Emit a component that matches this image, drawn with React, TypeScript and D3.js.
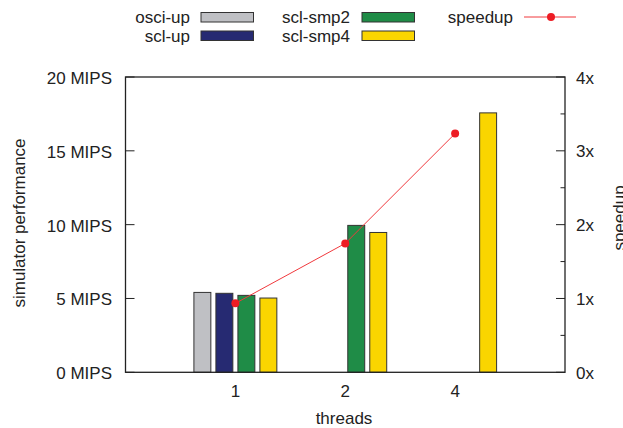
import React, { useRef, useEffect } from "react";
import * as d3 from "d3";

const threads = ["1", "2", "4"];
const seriesNames = ["osci-up", "scl-up", "scl-smp2", "scl-smp4"];
const seriesColors = ["#bfc0c4", "#262a72", "#1f8c47", "#fad500"];
const osciUp = [5.41, null, null];
const sclUp = [5.35, null, null];
const sclSmp2 = [5.21, 9.95, null];
const sclSmp4 = [5.03, 9.47, 17.57];
const speedup = [0.934, 1.746, 3.234];
const mipsTicks = [0, 5, 10, 15, 20];
const speedupTicks = [0, 1, 2, 3, 4];

const W = 623;
const H = 428;
const FONT = "'Liberation Sans', Arial, sans-serif";

const App = () => {
  const ref = useRef<SVGSVGElement>(null);

  useEffect(() => {
    const svg = d3.select(ref.current);
    svg.selectAll("*").remove();

    const left = 125.5;
    const right = 565;
    const top = 77;
    const bottom = 372.3;

    const x = d3.scalePoint().domain(threads).range([left, right]).padding(1);
    const inner = d3
      .scaleBand()
      .domain(seriesNames)
      .range([-44, 44])
      .paddingInner(0.23)
      .paddingOuter(0.115);
    const y = d3.scaleLinear().domain([0, 20]).range([bottom, top]);
    const y2 = d3.scaleLinear().domain([0, 4]).range([bottom, top]);

    const allSeries = [osciUp, sclUp, sclSmp2, sclSmp4];

    // bars
    allSeries.forEach((vals, si) => {
      svg
        .append("g")
        .selectAll("rect")
        .data(vals.map((v, i) => ({ v, t: threads[i] })).filter((d) => d.v != null))
        .enter()
        .append("rect")
        .attr("x", (d) => x(d.t)! + inner(seriesNames[si])!)
        .attr("width", inner.bandwidth())
        .attr("y", (d) => y(d.v as number))
        .attr("height", (d) => y(0) - y(d.v as number))
        .attr("fill", seriesColors[si])
        .attr("stroke", "#333")
        .attr("stroke-width", 1);
    });

    // frame
    svg
      .append("rect")
      .attr("x", left)
      .attr("y", top)
      .attr("width", right - left)
      .attr("height", bottom - top)
      .attr("fill", "none")
      .attr("stroke", "#222")
      .attr("stroke-width", 1.3);

    // left ticks
    mipsTicks.forEach((t) => {
      svg
        .append("line")
        .attr("x1", left)
        .attr("x2", left + 9)
        .attr("y1", y(t))
        .attr("y2", y(t))
        .attr("stroke", "#222");
      svg
        .append("text")
        .attr("x", 112)
        .attr("y", y(t) + 7)
        .attr("text-anchor", "end")
        .attr("font-family", FONT)
        .attr("font-size", 17)
        .attr("fill", "#222")
        .text(`${t} MIPS`);
    });

    // right ticks (major + minor)
    d3.range(0, 4.01, 0.5).forEach((t) => {
      const major = Number.isInteger(t);
      svg
        .append("line")
        .attr("x1", right)
        .attr("x2", right - (major ? 9 : 4.5))
        .attr("y1", y2(t))
        .attr("y2", y2(t))
        .attr("stroke", "#222");
    });
    speedupTicks.forEach((t) => {
      svg
        .append("text")
        .attr("x", 576)
        .attr("y", y2(t) + 6.5)
        .attr("font-family", FONT)
        .attr("font-size", 17)
        .attr("fill", "#222")
        .text(`${t}x`);
    });

    // x labels
    threads.forEach((t) => {
      svg
        .append("text")
        .attr("x", x(t)!)
        .attr("y", 397)
        .attr("text-anchor", "middle")
        .attr("font-family", FONT)
        .attr("font-size", 17)
        .attr("fill", "#222")
        .text(t);
    });

    // axis titles
    svg
      .append("text")
      .attr("x", 344)
      .attr("y", 424)
      .attr("text-anchor", "middle")
      .attr("font-family", FONT)
      .attr("font-size", 17)
      .attr("fill", "#222")
      .text("threads");
    svg
      .append("text")
      .attr("transform", `translate(25,223) rotate(-90)`)
      .attr("text-anchor", "middle")
      .attr("font-family", FONT)
      .attr("font-size", 17)
      .attr("fill", "#222")
      .text("simulator performance");
    svg
      .append("text")
      .attr("transform", `translate(625,218) rotate(-90)`)
      .attr("text-anchor", "middle")
      .attr("font-family", FONT)
      .attr("font-size", 17)
      .attr("fill", "#222")
      .text("speedup");

    // speedup line
    const line = d3
      .line<number>()
      .x((_, i) => x(threads[i])!)
      .y((d) => y2(d));
    svg
      .append("path")
      .attr("d", line(speedup))
      .attr("fill", "none")
      .attr("stroke", "#f0393d")
      .attr("stroke-width", 1);
    svg
      .append("g")
      .selectAll("circle")
      .data(speedup)
      .enter()
      .append("circle")
      .attr("cx", (_, i) => x(threads[i])!)
      .attr("cy", (d) => y2(d))
      .attr("r", 4)
      .attr("fill", "#ed1c24");

    // legend
    const legendCols = [
      { tx: 190, sx: 201 },
      { tx: 350, sx: 362 },
    ];
    const rowY = [17, 35.5];
    seriesNames.forEach((name, i) => {
      const col = legendCols[Math.floor(i / 2)];
      const ry = rowY[i % 2];
      svg
        .append("text")
        .attr("x", col.tx)
        .attr("y", ry + 6)
        .attr("text-anchor", "end")
        .attr("font-family", FONT)
        .attr("font-size", 17)
        .attr("fill", "#222")
        .text(name);
      svg
        .append("rect")
        .attr("x", col.sx)
        .attr("y", ry - 4.5)
        .attr("width", 52.5)
        .attr("height", 9.5)
        .attr("fill", seriesColors[i])
        .attr("stroke", "#333")
        .attr("stroke-width", 1);
    });
    svg
      .append("text")
      .attr("x", 513)
      .attr("y", rowY[0] + 6)
      .attr("text-anchor", "end")
      .attr("font-family", FONT)
      .attr("font-size", 17)
      .attr("fill", "#222")
      .text("speedup");
    svg
      .append("line")
      .attr("x1", 524)
      .attr("x2", 576)
      .attr("y1", rowY[0])
      .attr("y2", rowY[0])
      .attr("stroke", "#f0393d");
    svg
      .append("circle")
      .attr("cx", 551)
      .attr("cy", rowY[0])
      .attr("r", 4)
      .attr("fill", "#ed1c24");
  }, []);

  return (
    <svg
      ref={ref}
      width={W}
      height={H}
      style={{ position: "absolute", left: 0, top: 0, background: "#fff" }}
    ></svg>
  );
};

export default App;
